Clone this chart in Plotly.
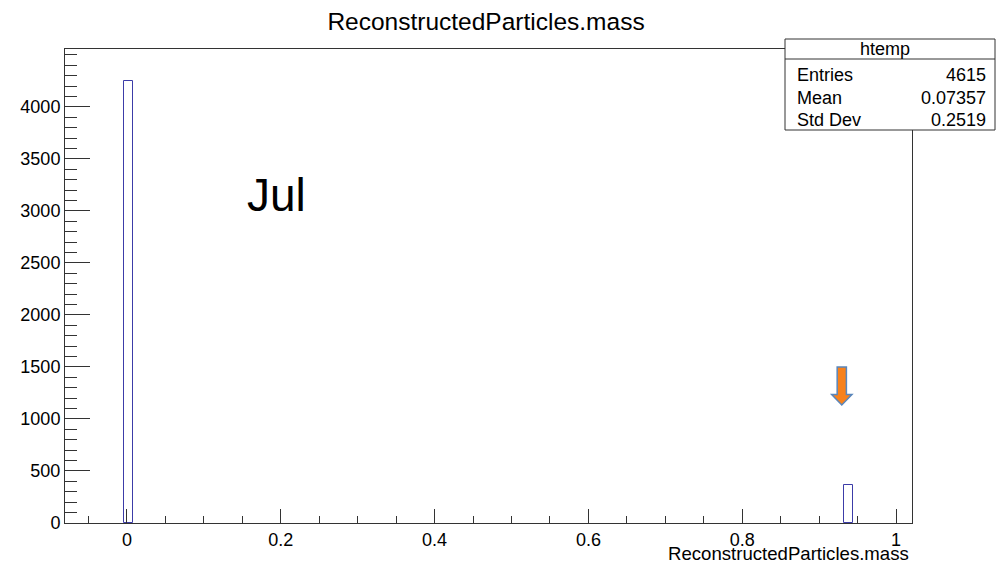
import plotly.graph_objects as go

# ---- data ----
x_min, x_max, n_bins = -0.0806, 1.0208, 100
filled_bins = [7, 92]
bin_counts = [4253, 362]
y_max = 4557
x_tick_vals = [0, 0.2, 0.4, 0.6, 0.8, 1.0]
x_tick_text = ["0", "0.2", "0.4", "0.6", "0.8", "1"]
y_tick_vals = [0, 500, 1000, 1500, 2000, 2500, 3000, 3500, 4000]
y_tick_text = [str(v) for v in y_tick_vals]
stat_labels = ["Entries", "Mean", "Std Dev"]
stat_values = ["4615", "0.07357", "0.2519"]
hist_name = "htemp"
title_text = "ReconstructedParticles.mass"
note_text = "Jul"
# arrow annotation (data coords)
arrow_x = 0.9295
arrow_top = 1500
arrow_head_base = 1235
arrow_tip = 1135

bin_w = (x_max - x_min) / n_bins
centers = [x_min + (i + 0.5) * bin_w for i in filled_bins]

FONT = "Liberation Sans, Arial, Helvetica, sans-serif"
AX = "#333333"

fig = go.Figure()
fig.add_trace(go.Bar(
    x=centers, y=bin_counts, width=[bin_w] * len(centers),
    marker=dict(color="rgba(255,255,255,0)", line=dict(color="#3c3ca8", width=1)),
    showlegend=False, hoverinfo="x+y",
))

fig.update_layout(
    width=999, height=565,
    margin=dict(l=65, r=87, t=49, b=42),
    paper_bgcolor="white", plot_bgcolor="white",
    font=dict(family=FONT, size=18, color="black"),
    title=dict(text=title_text, x=0.4865, xanchor="center", y=1 - 21 / 565, yanchor="middle",
               font=dict(family=FONT, size=24.5, color="black")),
    bargap=0,
)
fig.update_xaxes(
    range=[x_min, x_max], showgrid=False, zeroline=False,
    showline=True, linecolor=AX, linewidth=1, mirror=True,
    tickmode="array", tickvals=x_tick_vals, ticktext=x_tick_text,
    ticks="inside", ticklen=14, tickcolor=AX, tickwidth=1,
    tickfont=dict(family=FONT, size=18, color="black"),
    minor=dict(dtick=0.05, tick0=0, ticks="inside", ticklen=7, tickcolor=AX, tickwidth=1, showgrid=False),
)
fig.update_yaxes(
    range=[0, y_max], showgrid=False, zeroline=False,
    showline=True, linecolor=AX, linewidth=1, mirror=True,
    tickmode="array", tickvals=y_tick_vals, ticktext=y_tick_text,
    ticks="inside", ticklen=25, tickcolor=AX, tickwidth=1,
    tickfont=dict(family=FONT, size=18, color="black"),
    minor=dict(dtick=100, tick0=0, ticks="inside", ticklen=12, tickcolor=AX, tickwidth=1, showgrid=False),
)

# x-axis title, right aligned (ROOT style)
fig.add_annotation(text=title_text, xref="paper", yref="paper", x=0.999, y=-0.064,
                   xanchor="right", yanchor="middle", showarrow=False,
                   font=dict(family=FONT, size=18.6, color="black"))

# "Jul" label
fig.add_annotation(text=note_text, xref="paper", yref="paper", x=0.212, y=0.692,
                   xanchor="left", yanchor="middle", showarrow=False,
                   font=dict(family=FONT, size=46, color="black"))

# stats box
bx0, bx1 = (785 - 65) / 847, (995 - 65) / 847
by_top, by_sep, by_bot = (523 - 39) / 474, (523 - 59) / 474, (523 - 130) / 474
fig.add_shape(type="rect", xref="paper", yref="paper", x0=bx0, x1=bx1, y0=by_bot, y1=by_top,
              fillcolor="white", line=dict(color=AX, width=1), layer="above")
fig.add_shape(type="line", xref="paper", yref="paper", x0=bx0, x1=bx1, y0=by_sep, y1=by_sep,
              line=dict(color=AX, width=1), layer="above")
fig.add_annotation(text=hist_name, xref="paper", yref="paper", x=(885 - 65) / 847, y=(by_top + by_sep) / 2,
                   xanchor="center", yanchor="middle", showarrow=False,
                   font=dict(family=FONT, size=18, color="black"))
row_y = [75, 98, 120]
for lab, val, py in zip(stat_labels, stat_values, row_y):
    yp = (523 - py) / 474
    fig.add_annotation(text=lab, xref="paper", yref="paper", x=(795 - 65) / 847, y=yp,
                       xanchor="left", yanchor="middle", showarrow=False,
                       font=dict(family=FONT, size=18, color="black"))
    fig.add_annotation(text=val, xref="paper", yref="paper", x=(988 - 65) / 847, y=yp,
                       xanchor="right", yanchor="middle", showarrow=False,
                       font=dict(family=FONT, size=18, color="black"))

# orange block arrow
sw, hw = 0.006, 0.0132
path = (f"M {arrow_x - sw} {arrow_top} L {arrow_x + sw} {arrow_top} "
        f"L {arrow_x + sw} {arrow_head_base} L {arrow_x + hw} {arrow_head_base} "
        f"L {arrow_x} {arrow_tip} L {arrow_x - hw} {arrow_head_base} "
        f"L {arrow_x - sw} {arrow_head_base} Z")
fig.add_shape(type="path", xref="x", yref="y", path=path,
              fillcolor="#f8811b", line=dict(color="#5a86bb", width=1.5), layer="above")

fig.write_html(
    "out.html",
    config={"displayModeBar": False},
    post_script="document.body.style.margin='0';document.body.style.overflow='hidden';"
                "document.documentElement.style.overflow='hidden';",
)
